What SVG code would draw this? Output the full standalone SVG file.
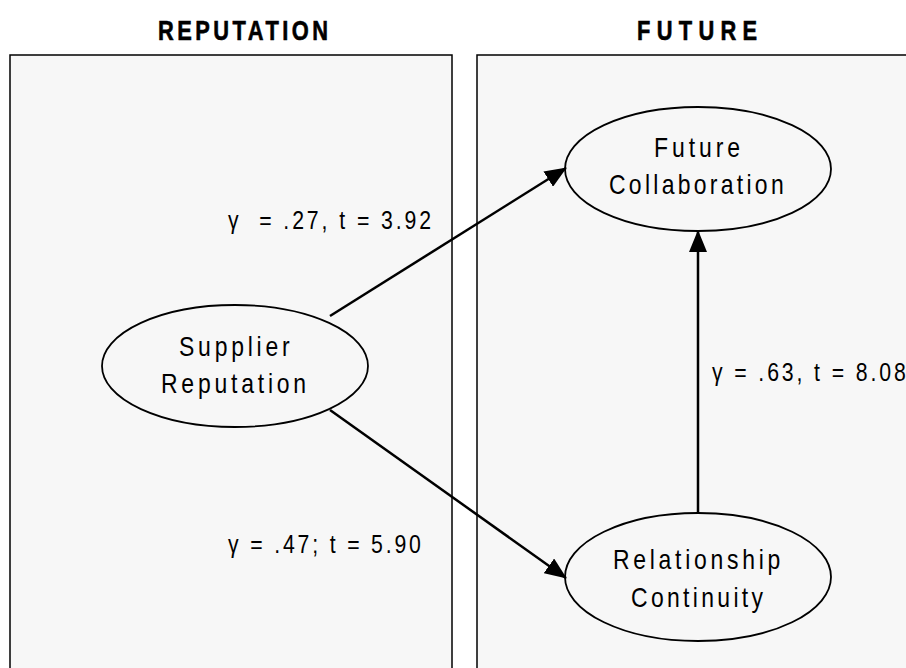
<svg xmlns="http://www.w3.org/2000/svg" width="906" height="668" viewBox="0 0 906 668">
<defs>
<style>
.panel{fill:#f7f7f7;stroke:#000;stroke-width:1.5}
.node ellipse{fill:#f7f7f7;stroke:#000;stroke-width:1.8}
.t{font-family:"Liberation Sans",Arial,sans-serif;font-size:28px;fill:#000}
.h{font-family:"Liberation Sans",Arial,sans-serif;font-size:28px;font-weight:bold;fill:#000;stroke:#000;stroke-width:0.6}
.lbl{font-family:"Liberation Sans",Arial,sans-serif;font-size:25px;fill:#000}
.conn line{stroke:#000;stroke-width:2.5}
</style>
<marker id="ahb" markerWidth="22" markerHeight="18" refX="21" refY="9" orient="auto" markerUnits="userSpaceOnUse" viewBox="0 0 22 18">
<path d="M0,0 L22,9 L0,18 z" fill="#000"/>
</marker>
</defs>
<rect width="906" height="668" fill="#fff"/>
<g id="reputation-panel">
<rect class="panel" x="10" y="55" width="442" height="630"/>
<text class="h" transform="translate(158,40) scale(0.78,1)" textLength="218" lengthAdjust="spacing">REPUTATION</text>
</g>
<g id="future-panel">
<rect class="panel" x="477" y="55" width="450" height="630"/>
<text class="h" transform="translate(637,40) scale(0.78,1)" textLength="154" lengthAdjust="spacing">FUTURE</text>
</g>
<g id="supplier-reputation" class="node">
<ellipse cx="235" cy="366" rx="133" ry="61"/>
<text class="t" transform="translate(179,356) scale(0.82,1)" textLength="135" lengthAdjust="spacing">Supplier</text>
<text class="t" transform="translate(161,393) scale(0.82,1)" textLength="177" lengthAdjust="spacing">Reputation</text>
</g>
<g id="future-collaboration" class="node">
<ellipse cx="698" cy="169" rx="133" ry="62"/>
<text class="t" transform="translate(654,157) scale(0.82,1)" textLength="105" lengthAdjust="spacing">Future</text>
<text class="t" transform="translate(609,194) scale(0.82,1)" textLength="213" lengthAdjust="spacing">Collaboration</text>
</g>
<g id="relationship-continuity" class="node">
<ellipse cx="698" cy="577" rx="133" ry="64"/>
<text class="t" transform="translate(613,569) scale(0.82,1)" textLength="204" lengthAdjust="spacing">Relationship</text>
<text class="t" transform="translate(631,607) scale(0.82,1)" textLength="161" lengthAdjust="spacing">Continuity</text>
</g>
<g id="connectors" class="conn">
<line x1="330" y1="316" x2="566" y2="168" marker-end="url(#ahb)"/>
<line x1="330" y1="410" x2="566" y2="578" marker-end="url(#ahb)"/>
<line x1="698" y1="513" x2="698" y2="231" marker-end="url(#ahb)"/>
</g>
<g id="labels">
<text class="lbl" transform="translate(228,229) scale(0.85,1)" xml:space="preserve" textLength="239" lengthAdjust="spacing">γ  = .27, t = 3.92</text>
<text class="lbl" transform="translate(228,553) scale(0.85,1)" textLength="227" lengthAdjust="spacing">γ = .47; t = 5.90</text>
<text class="lbl" transform="translate(712,381) scale(0.85,1)" textLength="228" lengthAdjust="spacing">γ = .63, t = 8.08</text>
</g>
</svg>
